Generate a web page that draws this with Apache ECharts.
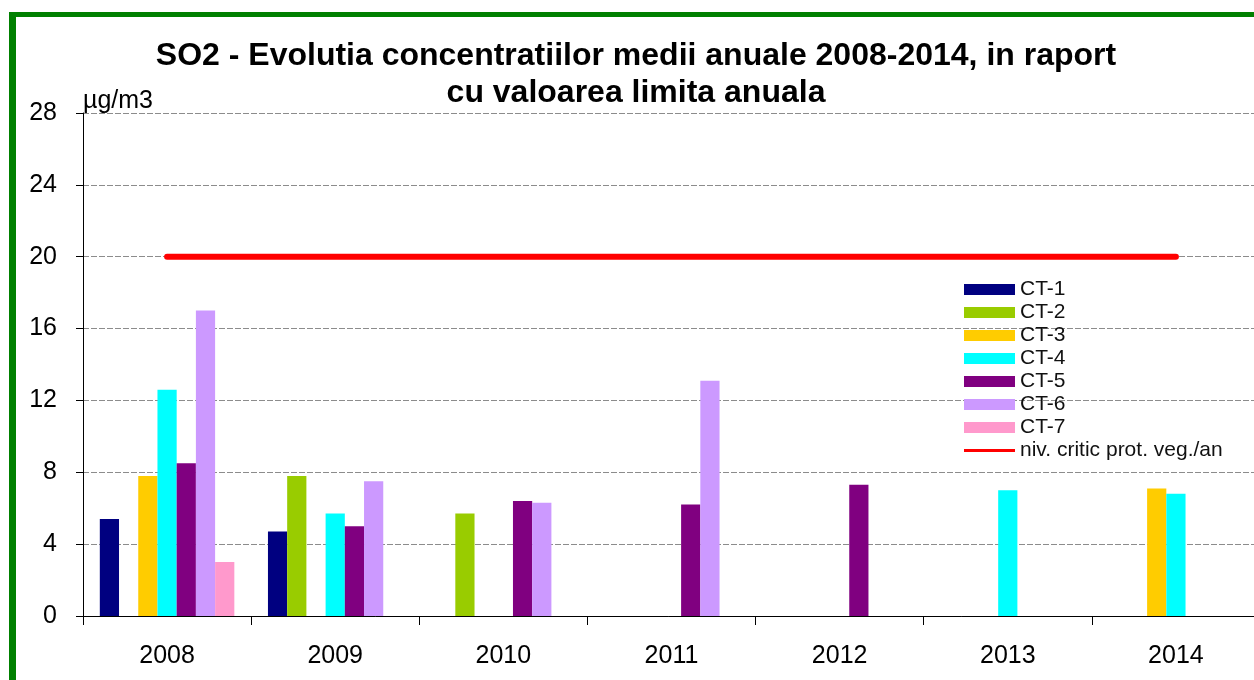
<!DOCTYPE html>
<html>
<head>
<meta charset="utf-8">
<script src="https://cdn.jsdelivr.net/npm/echarts@6/dist/echarts.min.js"></script>
<style>
  html, body { margin: 0; padding: 0; background: #fff; }
  #chart { width: 1254px; height: 680px; }
</style>
</head>
<body>
<div id="chart"></div>
<script>
// ani si statii
var years = ['2008', '2009', '2010', '2011', '2012', '2013', '2014'];
var stationNames = ['CT-1', 'CT-2', 'CT-3', 'CT-4', 'CT-5', 'CT-6', 'CT-7'];
var stationColors = ['#000080', '#99cc00', '#ffcc00', '#00ffff', '#800080', '#cc99ff', '#ff99cc'];

// concentratii medii anuale SO2 (µg/m3), null = fara date
var ct1 = [5.4, 4.7, null, null, null, null, null];
var ct2 = [null, 7.8, 5.7, null, null, null, null];
var ct3 = [7.8, null, null, null, null, null, 7.1];
var ct4 = [12.6, 5.7, null, null, null, 7.0, 6.8];
var ct5 = [8.5, 5.0, 6.4, 6.2, 7.3, null, null];
var ct6 = [17.0, 7.5, 6.3, 13.1, null, null, null];
var ct7 = [3.0, null, null, null, null, null, null];
var limitName = 'niv. critic prot. veg./an';
var limitValues = [20, 20, 20, 20, 20, 20, 20];

var stationData = [ct1, ct2, ct3, ct4, ct5, ct6, ct7];
var FONT = 'Liberation Sans';

var chart = echarts.init(document.getElementById('chart'));

var series = [];
for (var i = 0; i < stationNames.length; i++) {
  series.push({
    name: stationNames[i],
    type: 'bar',
    data: stationData[i],
    barGap: '0%',
    barCategoryGap: '20%',
    itemStyle: { color: stationColors[i] }
  });
}
series.push({
  name: limitName,
  type: 'line',
  data: limitValues,
  symbol: 'none',
  z: 5,
  lineStyle: { color: '#ff0000', width: 6, cap: 'round' },
  itemStyle: { color: '#ff0000' }
});

var legendData = stationNames.map(function(n) { return { name: n, icon: 'rect' }; });
legendData.push({ name: limitName, icon: 'path://M0,0 L51,0 L51,3 L0,3 Z' });

var option = {
  animation: false,
  backgroundColor: '#fff',
  legend: {
    orient: 'vertical',
    left: 964,
    top: 279,
    padding: 0,
    itemWidth: 51,
    itemHeight: 11,
    itemGap: 2,
    symbolKeepAspect: true,
    data: legendData,
    textStyle: { fontFamily: FONT, fontSize: 21, color: '#111', lineHeight: 18 }
  },
  grid: { left: 83, width: 1177, top: 113, bottom: 64, outerBoundsMode: 'none', containLabel: false },
  xAxis: {
    type: 'category',
    data: years,
    axisLine: { lineStyle: { color: '#000', width: 1 } },
    axisTick: { show: true, length: 9, lineStyle: { color: '#000' } },
    axisLabel: { fontFamily: FONT, fontSize: 25, color: '#000', margin: 28 }
  },
  yAxis: {
    type: 'value',
    min: 0,
    max: 28,
    interval: 4,
    axisLine: { show: true, lineStyle: { color: '#000', width: 1 } },
    axisTick: { show: true, length: 7, lineStyle: { color: '#000' } },
    axisLabel: { fontFamily: FONT, fontSize: 25, color: '#000', margin: 26 },
    splitLine: { lineStyle: { color: '#8c8c8c', type: [6, 2], width: 1 } }
  },
  graphic: [
    { type: 'rect', left: 9, top: 12, shape: { width: 7, height: 700 }, style: { fill: '#008000' }, z: 100 },
    { type: 'rect', left: 9, top: 12, shape: { width: 1300, height: 5 }, style: { fill: '#008000' }, z: 100 },
    {
      type: 'text', x: 636, y: 38, z: 100,
      style: {
        text: 'SO2 - Evolutia concentratiilor medii anuale 2008-2014, in raport\ncu valoarea limita anuala',
        fontFamily: FONT, fontSize: 32, fontWeight: 'bold', lineHeight: 37,
        fill: '#000', align: 'center', verticalAlign: 'top'
      }
    },
    {
      type: 'text', x: 83, y: 89, z: 100,
      style: { text: 'µg/m3', fontFamily: FONT, fontSize: 25, fill: '#000' }
    }
  ],
  series: series
};

chart.setOption(option);
</script>
</body>
</html>
